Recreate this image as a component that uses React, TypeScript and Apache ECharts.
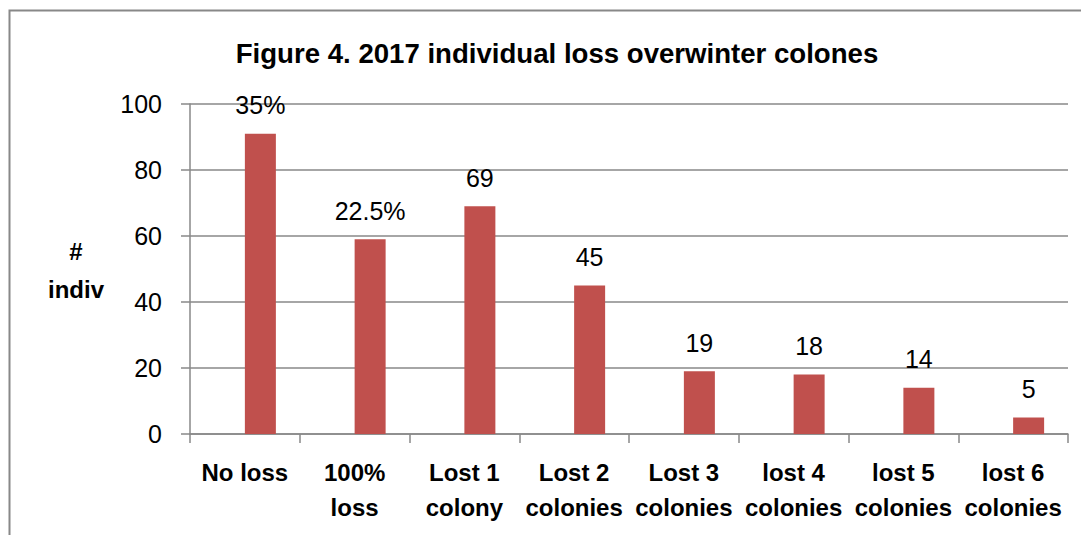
import React, { useEffect, useRef } from "react";
import * as echarts from "echarts";

const categories = [
  "No loss",
  "100%\nloss",
  "Lost 1\ncolony",
  "Lost 2\ncolonies",
  "Lost 3\ncolonies",
  "lost 4\ncolonies",
  "lost 5\ncolonies",
  "lost 6\ncolonies",
];
const individuals = [91, 59, 69, 45, 19, 18, 14, 5];
const barLabels = ["35%", "22.5%", "69", "45", "19", "18", "14", "5"];
// empty companion series that occupies the left slot of each category
const emptySlot = [null, null, null, null, null, null, null, null];
const yTicks = [0, 20, 40, 60, 80, 100];

const FONT = "'Liberation Sans', Arial, sans-serif";
const GRID_GRAY = "#888888";

export default function App() {
  const ref = useRef<HTMLDivElement>(null);

  useEffect(() => {
    if (!ref.current) return;
    const chart = echarts.init(ref.current, undefined, { renderer: "svg" });
    chart.setOption({
      animation: false,
      backgroundColor: "#ffffff",
      textStyle: { fontFamily: FONT },
      title: {
        text: "Figure 4. 2017 individual loss overwinter colones",
        left: 552,
        textAlign: "center",
        top: 34,
        textStyle: { fontFamily: FONT, fontSize: 27.6, fontWeight: "bold", color: "#000" },
      },
      graphic: [
        {
          type: "rect",
          shape: { x: 9.5, y: 10.5, width: 1200, height: 700 },
          style: { fill: "none", stroke: GRID_GRAY, lineWidth: 2 },
          silent: true,
        },
        {
          type: "text",
          x: 76,
          y: 270,
          style: {
            text: "#\nindiv",
            fontFamily: FONT,
            fontSize: 24,
            fontWeight: "bold",
            fill: "#000",
            align: "center",
            verticalAlign: "middle",
            lineHeight: 38,
          },
        },
      ],
      grid: { left: 190, right: 13, top: 104, bottom: 101, containLabel: false },
      xAxis: {
        type: "category",
        data: categories,
        boundaryGap: true,
        axisLine: { show: true, lineStyle: { color: GRID_GRAY, width: 1.5 } },
        axisTick: { show: true, length: 9, alignWithLabel: false, lineStyle: { color: GRID_GRAY, width: 1.5 } },
        axisLabel: {
          interval: 0,
          margin: 21,
          fontFamily: FONT,
          fontSize: 24,
          fontWeight: "bold",
          color: "#000",
          lineHeight: 35,
        },
      },
      yAxis: {
        type: "value",
        min: yTicks[0],
        max: yTicks[yTicks.length - 1],
        interval: 20,
        axisLine: { show: true, lineStyle: { color: GRID_GRAY, width: 1.5 } },
        axisTick: { show: true, length: 9, inside: false, lineStyle: { color: GRID_GRAY, width: 1.5 } },
        axisLabel: { margin: 28, fontFamily: FONT, fontSize: 25, color: "#000" },
        splitLine: { show: true, lineStyle: { color: GRID_GRAY, width: 1.5 } },
      },
      series: [
        {
          type: "bar",
          data: emptySlot,
          barWidth: 31,
          barGap: "0%",
          silent: true,
        },
        {
          type: "bar",
          data: individuals,
          barWidth: 31,
          barGap: "0%",
          itemStyle: { color: "#C0504D" },
          label: {
            show: true,
            position: "top",
            distance: 16,
            fontFamily: FONT,
            fontSize: 25,
            color: "#000",
            formatter: (p: any) => barLabels[p.dataIndex],
          },
        },
      ],
    });
    return () => chart.dispose();
  }, []);

  return (
    <div
      ref={ref}
      style={{ position: "fixed", left: 0, top: 0, width: 1081, height: 535 }}
    />
  );
}
